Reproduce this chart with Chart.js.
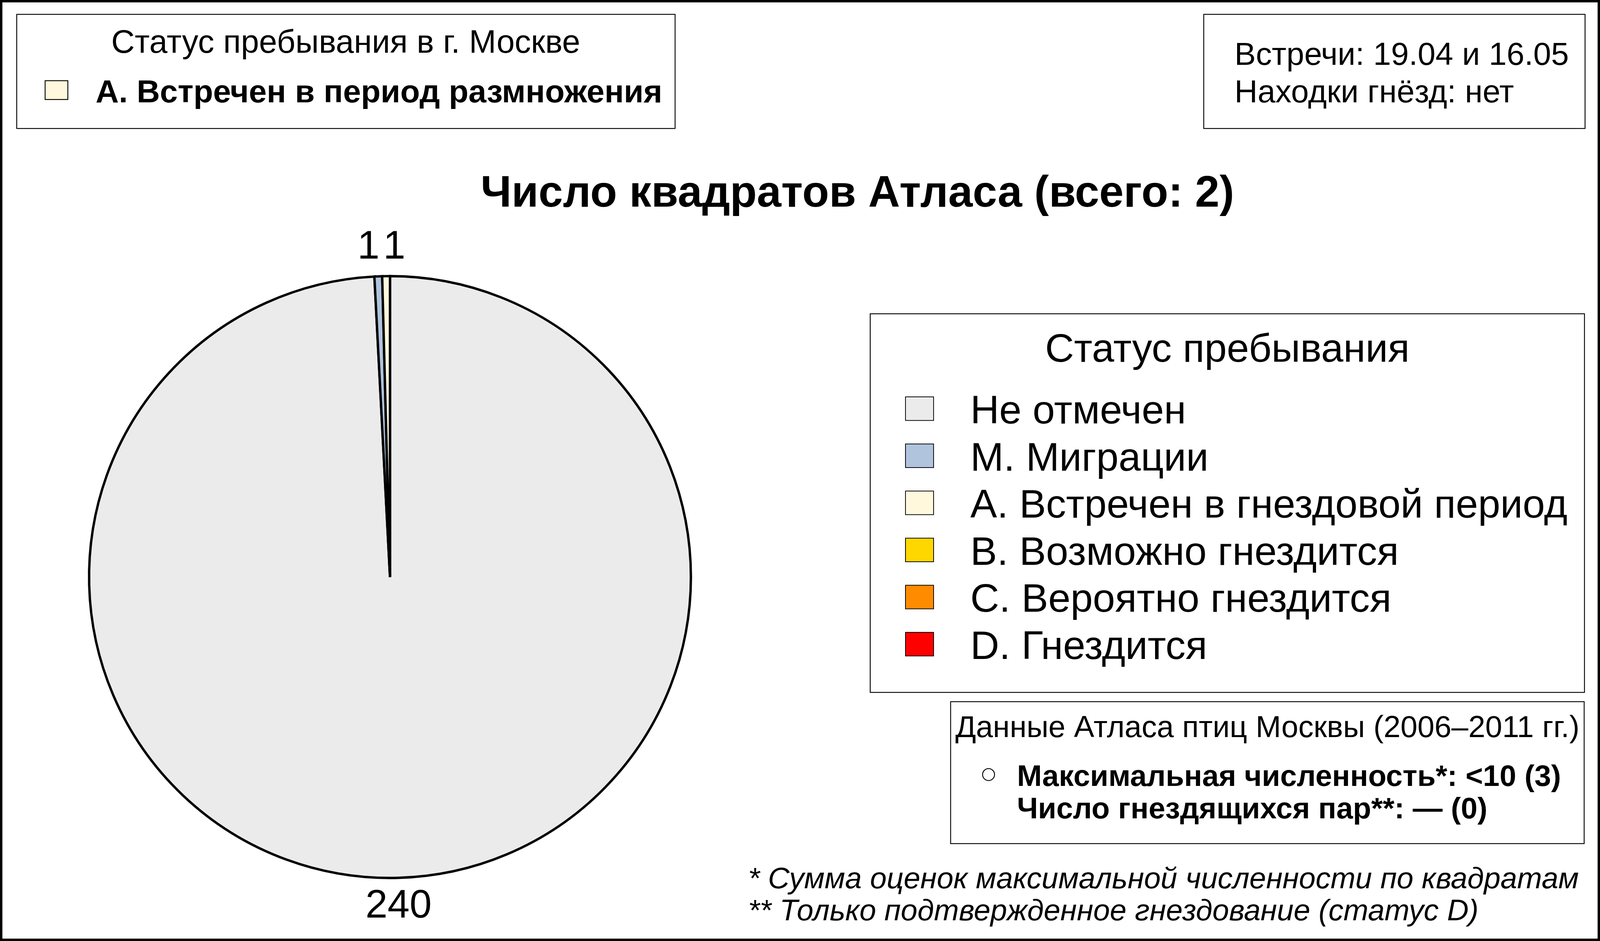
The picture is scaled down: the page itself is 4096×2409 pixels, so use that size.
<!DOCTYPE html>
<html lang="ru">
<head>
<meta charset="utf-8">
<title>Число квадратов Атласа</title>
<script src="https://cdn.jsdelivr.net/npm/chart.js@4.4.1/dist/chart.umd.min.js"></script>
<style>
	html, body { margin: 0; padding: 0; background: #fff; overflow: hidden; }
	#atlasPie { display: block; }
</style>
</head>
<body>
<canvas id="atlasPie" width="4096" height="2409"></canvas>
<script>
// Data, in legend order
const statusLabels = [
	"Не отмечен",
	"М. Миграции",
	"А. Встречен в гнездовой период",
	"В. Возможно гнездится",
	"С. Вероятно гнездится",
	"D. Гнездится",
];
const squareCounts = [240, 1, 1, 0, 0, 0];
const statusColors = ["#EBEBEB", "#B0C4DE", "#FFF8DC", "#FFD700", "#FF8C00", "#FF0000"];

const chartTitle = "Число квадратов Атласа (всего: 2)";
const legendTitle = "Статус пребывания";
const cityTitle = "Статус пребывания в г. Москве";
const cityStatus = "А. Встречен в период размножения";
const cityStatusColor = "#FFF8DC";
const meetingLines = ["Встречи: 19.04 и 16.05", "Находки гнёзд: нет"];
const atlasTitle = "Данные Атласа птиц Москвы (2006–2011 гг.)";
const atlasLines = ["Максимальная численность*: <10 (3)", "Число гнездящихся пар**: — (0)"];
const footnotes = [
	"* Сумма оценок максимальной численности по квадратам",
	"** Только подтвержденное гнездование (статус D)",
];

(() => {
	if (typeof Chart === "undefined") {
		console.error("Chart.js is not loaded");
		return;
	}

	// layout is measured on the 5354 px wide original, then scaled down
	const S = 4096 / 5354;
	const FONT = '"Liberation Sans", Arial, sans-serif';

	const setFont = (ctx, size, weight = "normal", style = "normal") => {
		ctx.font = `${style} ${weight} ${size * S}px ${FONT}`;
	};

	const text = (ctx, str, x, y, size, opts = {}) => {
		setFont(ctx, size, opts.weight, opts.style);
		ctx.fillStyle = "#000";
		ctx.textAlign = opts.align || "left";
		ctx.textBaseline = opts.baseline || "alphabetic";
		ctx.fillText(str, x * S, y * S);
	};

	const box = (ctx, x1, y1, x2, y2, lw, fill) => {
		ctx.save();
		if (fill) {
			ctx.fillStyle = fill;
			ctx.fillRect(x1 * S, y1 * S, (x2 - x1) * S, (y2 - y1) * S);
		}
		ctx.lineWidth = lw * S;
		ctx.strokeStyle = "#000";
		ctx.strokeRect(x1 * S, y1 * S, (x2 - x1) * S, (y2 - y1) * S);
		ctx.restore();
	};

	const sheetPlugin = {
		id: "sheet",
		beforeDraw(chart) {
			const { ctx, width, height } = chart;
			ctx.save();
			ctx.fillStyle = "#fff";
			ctx.fillRect(0, 0, width, height);
			ctx.restore();
		},
		afterDatasetsDraw(chart) {
			// value labels outside the pie, pushed apart when they collide
			const { ctx } = chart;
			const meta = chart.getDatasetMeta(0);
			const labelSize = 133;
			const labels = [];
			meta.data.forEach((arc, i) => {
				const value = squareCounts[i];
				if (!value) return;
				const p = arc.getProps(["x", "y", "startAngle", "endAngle", "outerRadius"], true);
				const mid = (p.startAngle + p.endAngle) / 2;
				const r = p.outerRadius * 1.095;
				labels.push({ value, x: p.x + Math.cos(mid) * r, y: p.y + Math.sin(mid) * r });
			});
			const minGap = labelSize * 0.65 * S;
			labels.sort((a, b) => a.x - b.x);
			for (let i = 1; i < labels.length; i++) {
				const a = labels[i - 1];
				const b = labels[i];
				if (Math.abs(a.y - b.y) < labelSize * S && b.x - a.x < minGap) {
					const c = (a.x + b.x) / 2;
					a.x = c - minGap / 2;
					b.x = c + minGap / 2;
				}
			}
			labels.forEach((l) => {
				setFont(ctx, labelSize);
				ctx.fillStyle = "#000";
				ctx.textAlign = "center";
				ctx.textBaseline = "middle";
				ctx.fillText(String(l.value), l.x, l.y);
			});
		},
		afterDraw(chart) {
			const { ctx, width, height } = chart;
			ctx.save();

			// outer frame
			ctx.lineWidth = 8 * S;
			ctx.strokeStyle = "#000";
			ctx.strokeRect(4 * S, 4 * S, width - 8 * S, height - 8 * S);

			// top-left: status in Moscow
			box(ctx, 56, 48, 2259, 430, 3);
			text(ctx, cityTitle, 1157, 177, 109, { align: "center" });
			box(ctx, 151, 270, 227, 333, 3, cityStatusColor);
			text(ctx, cityStatus, 320, 343, 107.5, { weight: "bold" });

			// top-right: dates
			box(ctx, 4028, 48, 5304, 430, 3);
			meetingLines.forEach((line, i) => text(ctx, line, 4131, 217 + i * 125, 107));

			// title
			text(ctx, chartTitle, 2869, 692, 147, { weight: "bold", align: "center" });

			// legend
			box(ctx, 2912, 1050, 5302, 2317, 3);
			text(ctx, legendTitle, 4107, 1210, 134, { align: "center" });
			statusLabels.forEach((label, i) => {
				const base = 1417 + i * 157.6;
				box(ctx, 3030, base - 89, 3124, base - 10, 2.5, statusColors[i]);
				text(ctx, label, 3247, base, 134);
			});

			// atlas data
			box(ctx, 3181, 2348, 5301, 2823, 3);
			text(ctx, atlasTitle, 4241, 2466, 102, { align: "center" });
			ctx.beginPath();
			ctx.arc(3308 * S, 2592 * S, 20 * S, 0, Math.PI * 2);
			ctx.lineWidth = 3 * S;
			ctx.strokeStyle = "#000";
			ctx.stroke();
			atlasLines.forEach((line, i) => text(ctx, line, 3403, 2630 + i * 108, 100, { weight: "bold" }));

			// footnotes
			footnotes.forEach((line, i) => text(ctx, line, 2503, 2973 + i * 106, 100, { style: "italic" }));

			ctx.restore();
		},
	};

	new Chart(document.getElementById("atlasPie"), {
		type: "pie",
		data: {
			labels: statusLabels,
			datasets: [
				{
					data: squareCounts,
					backgroundColor: statusColors,
					borderColor: "#000",
					borderWidth: 8 * S,
					borderJoinStyle: "miter",
				},
			],
		},
		options: {
			responsive: false,
			animation: false,
			devicePixelRatio: 1,
			rotation: 0,
			layout: {
				padding: {
					left: 294 * S,
					top: 920 * S,
					right: (5354 - 2316) * S,
					bottom: (3149 - 2942) * S,
				},
			},
			plugins: {
				legend: { display: false },
				title: { display: false },
				tooltip: { enabled: false },
			},
		},
		plugins: [sheetPlugin],
	});
})();
</script>
</body>
</html>
